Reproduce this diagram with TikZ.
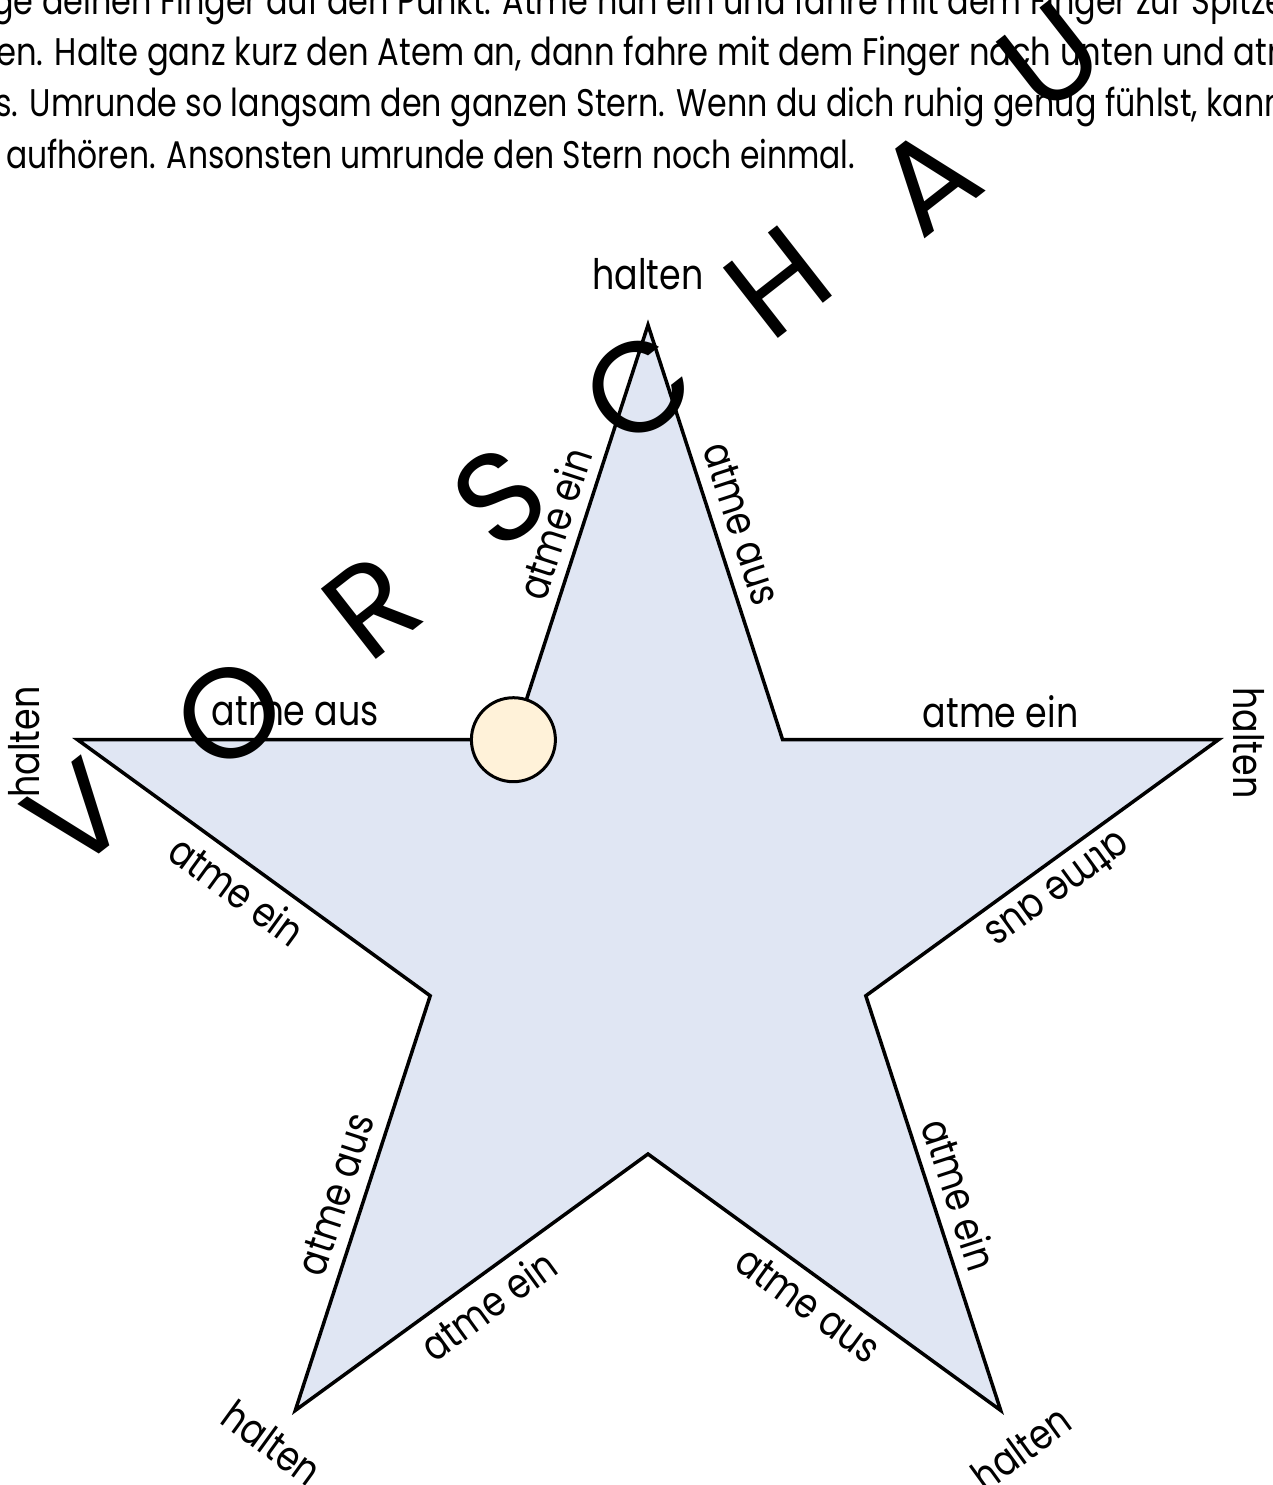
\documentclass[tikz,border=0pt]{standalone}
\usepackage{fontspec}
\usepackage{graphicx}
\newfontfamily\pop{Poppins}
\definecolor{starfill}{HTML}{E0E6F3}
\definecolor{dotfill}{HTML}{FFF2D9}
\newlength\fitlen
\newcommand\lblsize{\fontsize{42}{50}\selectfont}
\newcommand\txtsize{\fontsize{38.5}{46}\selectfont}
\newcommand\wmsize{\fontsize{128}{140}\selectfont}
\newcommand\fitline[3]{\settowidth{\fitlen}{#2}\pgfmathsetmacro\fitsx{#1/\fitlen}\scalebox{\fitsx}[1]{#2#3}}
\newcommand\lbl[1]{\settowidth{\fitlen}{atme aus}\pgfmathsetmacro\lblsx{167/\fitlen}\scalebox{\lblsx}[1]{#1}}
\tikzset{
  lab/.style={font=\pop\lblsize, inner sep=0pt, text=black},
  wm/.style={font=\pop\wmsize, inner sep=0pt, rotate=38, text=black},
  body/.style={font=\pop\txtsize, inner sep=0pt, anchor=base west, text=black},
  starline/.style={draw=black, line width=3.5pt, line join=miter, fill=starfill},
  dotnode/.style={circle, draw=black, line width=3pt, fill=dotfill, minimum size=84pt, inner sep=0pt},
}
\begin{document}
\begin{tikzpicture}[x=1pt,y=-1pt]
\useasboundingbox (0,0) rectangle (1272,1485);
\fill[white] (0,0) rectangle (1272,1485);
\clip (0,0) rectangle (1272,1485);
% star vertices
\coordinate (o1) at (648,325);
\coordinate (i1) at (782.6,739.7);
\coordinate (o2) at (1218.6,739.6);
\coordinate (i2) at (865.8,995.8);
\coordinate (o3) at (1000.7,1410.4);
\coordinate (i3) at (648,1154);
\coordinate (o4) at (295.3,1410.4);
\coordinate (i4) at (430.2,995.8);
\coordinate (o5) at (77.4,739.6);
\coordinate (i5) at (513.4,739.7);
\draw[starline] (o1) -- (i1) -- (o2) -- (i2) -- (o3) -- (i3) -- (o4) -- (i4) -- (o5) -- (i5) -- cycle;
% edge labels
\node[lab, rotate=-72] (e1) at (741.9,523.7) {\lbl{atme aus}};
\node[lab] (e2) at (1000.6,711.7) {\lbl{atme ein}};
\node[lab, rotate=216] (e3) at (1058.7,890.3) {\lbl{atme aus}};
\node[lab, rotate=-72] (e4) at (959.9,1194.4) {\lbl{atme ein}};
\node[lab, rotate=-36] (e5) at (807.9,1304.9) {\lbl{atme aus}};
\node[lab, rotate=36] (e6) at (488.1,1304.9) {\lbl{atme ein}};
\node[lab, rotate=72] (e7) at (336.1,1194.4) {\lbl{atme aus}};
\node[lab, rotate=-36] (e8) at (237.3,890.4) {\lbl{atme ein}};
\node[lab] (e9) at (295.4,711.7) {\lbl{atme aus}};
\node[lab, rotate=72] (e10) at (554.1,523.7) {\lbl{atme ein}};
% halten labels
\node[lab] (h1) at (648,274) {\lbl{halten}};
\node[lab, rotate=-90] (h2) at (1249,743) {\lbl{halten}};
\node[lab, rotate=36] (h3) at (1021,1448) {\lbl{halten}};
\node[lab, rotate=-36] (h4) at (272,1443) {\lbl{halten}};
\node[lab, rotate=90] (h5) at (24,742) {\lbl{halten}};
% start dot
\node[dotnode] (dot) at (i5) {};
% instructions
\node[body] (t1) at (-8,15) {\fitline{1191}{ge deinen Finger auf den Punkt. Atme nun ein und fahre mit dem Finger zur}{\ Spitze}};
\node[body] (t2) at (-4,66) {\fitline{1229}{en. Halte ganz kurz den Atem an, dann fahre mit dem Finger nach unten und}{\ atme}};
\node[body] (t3) at (-5,117) {\fitline{1203}{s. Umrunde so langsam den ganzen Stern. Wenn du dich ruhig genug fühlst,}{\ kannst}};
\node[body] (t4) at (6,168) {\fitline{849}{aufhören. Ansonsten umrunde den Stern noch einmal.}{}};
% watermark
\node[wm] (w1) at (77,815) {V};
\node[wm] (w2) at (230,713) {O};
\node[wm] (w3) at (372,606) {R};
\node[wm] (w4) at (500,497) {S};
\node[wm] (w5) at (638,388) {C};
\node[wm] (w6) at (778,282) {H};
\node[wm] (w7) at (928,180) {A};
\node[wm] (w8) at (1050,57) {U};
\end{tikzpicture}
\end{document}
